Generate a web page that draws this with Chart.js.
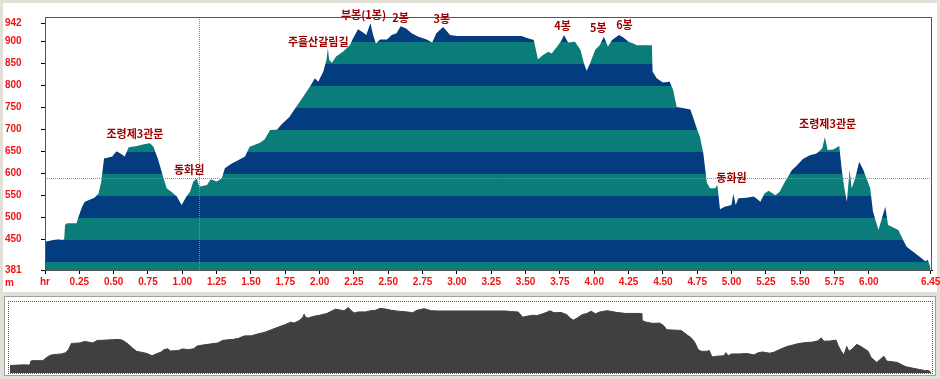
<!DOCTYPE html>
<html>
<head>
<meta charset="utf-8">
<script src="https://cdn.jsdelivr.net/npm/chart.js@4.4.0/dist/chart.umd.min.js"></script>
<style>
    body { margin: 0; width: 940px; height: 379px; background: #e3e0d8; position: relative; overflow: hidden; }
    #mainPanel { position: absolute; left: 3px; top: 3px; width: 934px; height: 289px; background: #fff; }
    #profileChart { position: absolute; left: 0; top: 0; }
    #overviewFrame { position: absolute; left: 4px; top: 296px; width: 932px; height: 80px; background: #fff; border: 1px solid #a0a0a0; box-sizing: border-box; }
    #overviewInner { position: absolute; left: 8px; top: 301px; width: 925px; height: 73px; border: 1px dotted #555; box-sizing: border-box; }
    #overviewChart { position: absolute; left: 10px; top: 302px; }
</style>
</head>
<body>
<div id="mainPanel"></div>
<canvas id="profileChart" width="940" height="295"></canvas>
<div id="overviewFrame"></div>
<div id="overviewInner"></div>
<canvas id="overviewChart" width="921" height="71"></canvas>
<script>
// elevation profile (hours walked, metres)
const profileHours = [
    0.00, 0.06, 0.095, 0.13, 0.14, 0.146, 0.16, 0.23, 0.24, 0.27, 0.29, 0.36, 0.39, 0.41, 0.43, 0.44,
    0.49, 0.52, 0.55, 0.58, 0.61, 0.67, 0.72, 0.765, 0.79, 0.825, 0.86, 0.886, 0.92, 0.96, 0.995,
    1.03, 1.056, 1.08, 1.105, 1.124, 1.18, 1.207, 1.25, 1.287, 1.31, 1.36, 1.41, 1.457, 1.49, 1.566,
    1.60, 1.64, 1.69, 1.72, 1.78, 1.83, 1.88, 1.93, 1.966, 1.99, 2.027, 2.05, 2.06, 2.07, 2.09, 2.12,
    2.17, 2.22, 2.245, 2.28, 2.32, 2.34, 2.37, 2.39, 2.41, 2.44, 2.49, 2.525, 2.56, 2.59, 2.63, 2.67,
    2.72, 2.78, 2.82, 2.85, 2.90, 2.95, 3.00, 3.47, 3.51, 3.56, 3.57, 3.59, 3.63, 3.665, 3.69, 3.73,
    3.76, 3.78, 3.81, 3.86, 3.90, 3.925, 3.945, 3.97, 4.006, 4.04, 4.07, 4.10, 4.13, 4.18, 4.21, 4.25,
    4.285, 4.31, 4.42, 4.425, 4.455, 4.50, 4.55, 4.575, 4.60, 4.70, 4.72, 4.75, 4.77, 4.795, 4.82,
    4.843, 4.88, 4.897, 4.916, 4.95, 5.00, 5.013, 5.03, 5.05, 5.11, 5.16, 5.18, 5.21, 5.24, 5.27,
    5.32, 5.35, 5.39, 5.44, 5.47, 5.52, 5.57, 5.62, 5.66, 5.68, 5.70, 5.74, 5.785, 5.80, 5.82, 5.84,
    5.86, 5.875, 5.90, 5.93, 5.96, 6.01, 6.03, 6.07, 6.12, 6.14, 6.215, 6.25, 6.275, 6.32, 6.37,
    6.41, 6.43, 6.45
];
const profileElev = [
    445, 449, 451, 449, 452, 483, 487, 487, 498, 525, 536, 545, 555, 582, 635, 635,
    639, 651, 646, 639, 660, 663, 667, 669, 661, 631, 593, 567, 559, 548, 529,
    548, 559, 582, 589, 570, 574, 587, 582, 589, 612, 623, 631, 639, 661, 670,
    678, 699, 700, 711, 729, 752, 775, 798, 817, 809, 832, 858, 885, 858, 852, 866,
    877, 892, 908, 928, 920, 915, 942, 915, 896, 905, 905, 915, 919, 935, 930, 919,
    911, 905, 898, 919, 933, 915, 913, 913, 908, 904, 889, 860, 870, 877, 873, 889,
    902, 915, 898, 900, 881, 851, 834, 851, 881, 892, 911, 889, 904, 915, 910, 900,
    896, 892, 892, 832, 817, 807, 809, 790, 752, 746, 728, 700, 684, 645, 580,
    567, 567, 574, 519, 525, 529, 555, 529, 544, 545, 548, 544, 536, 555, 561,
    551, 559, 582, 608, 617, 633, 642, 646, 657, 683, 654, 655, 663, 616, 570, 536,
    608, 567, 589, 627, 608, 567, 514, 472, 525, 483, 472, 449, 434, 423, 411,
    401, 404, 385
];

// axis ticks
const yTickValues = [381, 450, 500, 550, 600, 650, 700, 750, 800, 850, 900, 942];
const xTickValues = [0, 0.25, 0.5, 0.75, 1, 1.25, 1.5, 1.75, 2, 2.25, 2.5, 2.75, 3, 3.25, 3.5,
    3.75, 4, 4.25, 4.5, 4.75, 5, 5.25, 5.5, 5.75, 6, 6.45];
const xTickLabels = ['hr', '0.25', '0.50', '0.75', '1.00', '1.25', '1.50', '1.75', '2.00', '2.25',
    '2.50', '2.75', '3.00', '3.25', '3.50', '3.75', '4.00', '4.25', '4.50', '4.75', '5.00', '5.25',
    '5.50', '5.75', '6.00', '6.45'];

// elevation band edges (colour flips at each)
const bandEdges = [400, 450, 500, 550, 600, 650, 700, 750, 800, 850, 900];

// place names
const placeNames = ['조령제3관문', '동화원', '주흘산갈림길', '부봉(1봉)', '2봉', '3봉', '4봉', '5봉', '6봉', '동화원', '조령제3관문'];
const placeHours = [0.655, 1.05, 1.99, 2.32, 2.59, 2.89, 3.77, 4.03, 4.22, 5.00, 5.70];
const placeElev = [690, 608, 899, 960, 954, 951, 935, 931, 938, 590, 713];

// cursor position
const cursorHour = 1.12;
const cursorElev = 590;

const TEAL = '#0a7d7a';
const NAVY = '#043c80';
const RED = '#f01414';

const points = profileHours.map((h, i) => ({ x: h, y: profileElev[i] }));

function bandFill(context) {
    const chart = context.chart;
    const area = chart.chartArea;
    const y = chart.scales.y;
    if (!area || !y) return TEAL;
    const g = chart.ctx.createLinearGradient(0, area.bottom, 0, area.top);
    const span = area.bottom - area.top;
    let color = TEAL;
    g.addColorStop(0, color);
    bandEdges.forEach(v => {
        const t = Math.min(1, Math.max(0, (area.bottom - y.getPixelForValue(v)) / span));
        const next = color === TEAL ? NAVY : TEAL;
        g.addColorStop(t, color);
        g.addColorStop(t, next);
        color = next;
    });
    g.addColorStop(1, color);
    return g;
}

const profileDecor = {
    id: 'profileDecor',
    afterDraw(chart) {
        const { ctx, chartArea: a, scales } = chart;
        const cx = Math.round(scales.x.getPixelForValue(cursorHour)) + 0.5;
        const cy = Math.round(scales.y.getPixelForValue(cursorElev)) + 0.5;
        ctx.save();
        // cursor
        ctx.strokeStyle = '#8a8a8a';
        ctx.lineWidth = 1;
        ctx.setLineDash([1, 1]);
        ctx.beginPath();
        ctx.moveTo(cx, a.top);
        ctx.lineTo(cx, a.bottom);
        ctx.moveTo(a.left, cy);
        ctx.lineTo(a.right, cy);
        ctx.stroke();
        ctx.setLineDash([]);
        // frame
        ctx.strokeStyle = '#555';
        ctx.strokeRect(a.left + 0.5, a.top + 0.5, a.right - a.left - 1, a.bottom - a.top);
        // place names
        ctx.fillStyle = '#9a0000';
        ctx.font = 'bold 11px "Noto Sans CJK KR", sans-serif';
        ctx.textAlign = 'center';
        ctx.textBaseline = 'middle';
        placeNames.forEach((n, i) => {
            ctx.fillText(n, scales.x.getPixelForValue(placeHours[i]), scales.y.getPixelForValue(placeElev[i]));
        });
        // unit
        ctx.fillStyle = RED;
        ctx.font = 'bold 10px "Liberation Sans", Arial, sans-serif';
        ctx.textAlign = 'left';
        ctx.fillText('m', 5, scales.x.top + 13);
        ctx.restore();
    }
};

new Chart(document.getElementById('profileChart').getContext('2d'), {
    type: 'line',
    data: {
        datasets: [{
            data: points,
            fill: 'start',
            backgroundColor: bandFill,
            borderWidth: 0,
            borderColor: 'rgba(0,0,0,0)',
            pointRadius: 0,
            tension: 0
        }]
    },
    options: {
        responsive: false,
        animation: false,
        layout: { padding: { left: 5, right: 8, top: 17, bottom: 0 } },
        plugins: { legend: { display: false }, tooltip: { enabled: false } },
        scales: {
            x: {
                type: 'linear',
                min: 0,
                max: 6.46,
                afterBuildTicks: s => { s.ticks = xTickValues.map(v => ({ value: v })); },
                afterFit: s => { s.height = 25; s.paddingLeft = 0; s.paddingRight = 0; },
                grid: { drawOnChartArea: false, tickLength: 4, color: '#000' },
                border: { color: '#000' },
                ticks: {
                    autoSkip: false,
                    maxRotation: 0,
                    padding: 2,
                    color: RED,
                    font: { family: '"Liberation Sans", Arial, sans-serif', size: 10, weight: 'bold' },
                    callback: (v, i) => xTickLabels[i]
                }
            },
            y: {
                min: 381,
                max: 956,
                afterBuildTicks: s => { s.ticks = yTickValues.map(v => ({ value: v })); },
                afterFit: s => { s.width = 40; s.paddingTop = 0; s.paddingBottom = 0; },
                grid: { drawOnChartArea: false, tickLength: 4, color: '#000' },
                border: { color: '#000' },
                ticks: {
                    autoSkip: false,
                    crossAlign: 'far',
                    color: RED,
                    font: { family: '"Liberation Sans", Arial, sans-serif', size: 10, weight: 'bold' },
                    callback: v => String(v)
                }
            }
        }
    },
    plugins: [profileDecor]
});

// overview strip
new Chart(document.getElementById('overviewChart').getContext('2d'), {
    type: 'line',
    data: {
        datasets: [{
            data: points,
            fill: 'start',
            backgroundColor: '#404040',
            borderColor: '#404040',
            borderWidth: 1,
            pointRadius: 0,
            tension: 0
        }]
    },
    options: {
        responsive: false,
        animation: false,
        layout: { padding: 0 },
        plugins: { legend: { display: false }, tooltip: { enabled: false } },
        scales: {
            x: { type: 'linear', min: 0, max: 6.45, display: false },
            y: { min: 381, max: 990, display: false }
        }
    }
});
</script>
</body>
</html>
